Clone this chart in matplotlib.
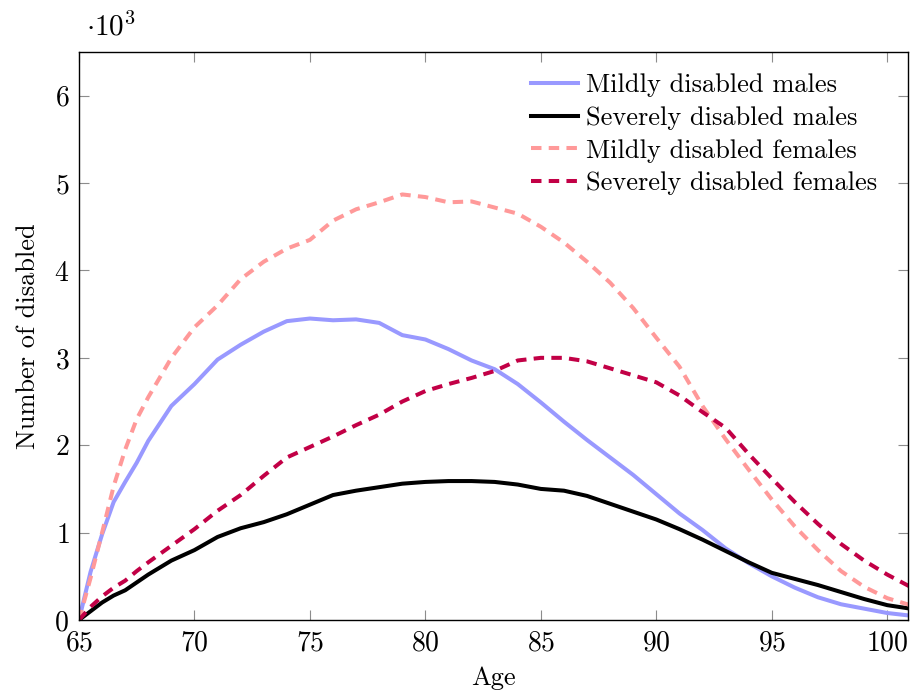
import numpy as np
import matplotlib
matplotlib.use("Agg")
import matplotlib.pyplot as plt

# ages (years) and number of disabled people, in thousands
ages = [65, 65.5, 66, 66.5, 67, 67.5, 68, 69, 70, 71, 72, 73, 74, 75, 76, 77, 78,
        79, 80, 81, 82, 83, 84, 85, 86, 87, 88, 89, 90, 91, 92, 93, 94, 95, 96,
        97, 98, 99, 100, 101]

mild_males = [0, 0.55, 0.98, 1.35, 1.58, 1.80, 2.05, 2.45, 2.70, 2.98, 3.15, 3.30,
              3.42, 3.45, 3.43, 3.44, 3.40, 3.26, 3.21, 3.10, 2.97, 2.87, 2.70,
              2.49, 2.27, 2.06, 1.86, 1.66, 1.44, 1.22, 1.03, 0.82, 0.65, 0.50,
              0.37, 0.26, 0.18, 0.13, 0.08, 0.05]

severe_males = [0, 0.10, 0.20, 0.28, 0.34, 0.43, 0.52, 0.68, 0.80, 0.95, 1.05,
                1.12, 1.21, 1.32, 1.43, 1.48, 1.52, 1.56, 1.58, 1.59, 1.59, 1.58,
                1.55, 1.50, 1.48, 1.42, 1.33, 1.24, 1.15, 1.04, 0.92, 0.79, 0.66,
                0.54, 0.47, 0.40, 0.32, 0.24, 0.17, 0.13]

mild_females = [0, 0.48, 1.00, 1.53, 1.95, 2.30, 2.55, 3.00, 3.35, 3.60, 3.90,
                4.10, 4.25, 4.35, 4.57, 4.70, 4.78, 4.87, 4.84, 4.78, 4.79, 4.72,
                4.65, 4.50, 4.32, 4.10, 3.86, 3.57, 3.23, 2.90, 2.45, 2.07, 1.72,
                1.38, 1.07, 0.80, 0.56, 0.38, 0.25, 0.17]

severe_females = [0, 0.15, 0.27, 0.37, 0.45, 0.56, 0.66, 0.85, 1.04, 1.25, 1.43,
                  1.65, 1.86, 1.98, 2.10, 2.23, 2.35, 2.50, 2.62, 2.70, 2.77, 2.85,
                  2.97, 3.00, 3.00, 2.96, 2.88, 2.80, 2.72, 2.57, 2.38, 2.20, 1.90,
                  1.62, 1.35, 1.10, 0.87, 0.68, 0.52, 0.38]

x_ticks = [65, 70, 75, 80, 85, 90, 95, 100]
y_ticks = [0, 1, 2, 3, 4, 5, 6]

plt.rcParams['font.family'] = ['cmr10', 'DejaVu Serif']
plt.rcParams['mathtext.fontset'] = 'cm'
plt.rcParams['axes.formatter.use_mathtext'] = True
fs = 19

fig = plt.figure(figsize=(9.10, 6.94), dpi=100)
ax = fig.add_axes([79 / 910, 1 - 620 / 694, (908 - 79) / 910, (620 - 52) / 694])

ax.plot(ages, mild_males, color='#9999ff', lw=2.9, label='Mildly disabled males')
ax.plot(ages, severe_males, color='black', lw=2.9, label='Severely disabled males')
ax.plot(ages, mild_females, color='#ff9999', lw=2.9, dashes=(2.6, 1.8),
        label='Mildly disabled females')
ax.plot(ages, severe_females, color='#c20046', lw=2.9, dashes=(2.6, 1.8),
        label='Severely disabled females')

ax.set_xlim(65, 100.9)
ax.set_ylim(0, 6.5)
ax.set_xticks(x_ticks)
ax.set_yticks(y_ticks)
ax.tick_params(direction='in', length=7, width=0.8, color='#8c8c8c',
               top=True, right=True, labelsize=20)
ax.tick_params(axis='x', pad=7)
ax.tick_params(axis='y', pad=7)
for s in ax.spines.values():
    s.set_linewidth(1.0)

ax.set_xlabel('Age', fontsize=fs, labelpad=7)
ax.set_ylabel('Number of disabled', fontsize=fs, labelpad=10)
fig.text(86 / 910, 1 - 27 / 694, r'$\cdot 10^3$', fontsize=21, va='center', ha='left')

ax.legend(loc='upper right', bbox_to_anchor=(0.963, 0.962), frameon=False,
          fontsize=fs, handlelength=1.8, handletextpad=0.3, labelspacing=0.34,
          borderpad=0, borderaxespad=0)

fig.savefig('out.png', dpi=100)
